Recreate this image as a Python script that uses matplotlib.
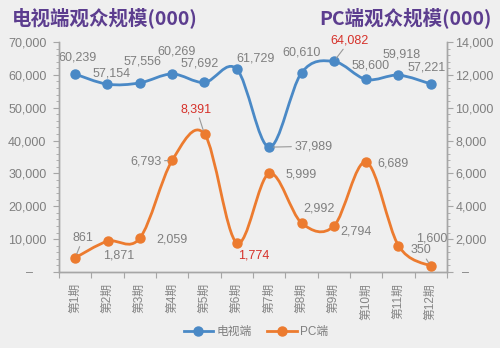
import matplotlib
matplotlib.use('Agg')
import matplotlib.pyplot as plt
from matplotlib.path import Path
from matplotlib.patches import PathPatch
from matplotlib.lines import Line2D
from matplotlib.ticker import FuncFormatter, MultipleLocator, FixedLocator

plt.rcParams['font.family'] = ['Liberation Sans', 'Noto Sans CJK SC', 'DejaVu Sans']

# ---------------- data ----------------
periods = ['第1期', '第2期', '第3期', '第4期', '第5期', '第6期',
           '第7期', '第8期', '第9期', '第10期', '第11期', '第12期']
tv_values = [60239, 57154, 57556, 60269, 57692, 61729,
             37989, 60610, 64082, 58600, 59918, 57221]
pc_values = [861, 1871, 2059, 6793, 8391, 1774,
             5999, 2992, 2794, 6689, 1600, 350]
series_names = ['电视端', 'PC端']
title_left = '电视端观众规模(000)'
title_right = 'PC端观众规模(000)'

# ---------------- styles ----------------
BG = '#efefef'
BLUE = '#4a89c6'
ORANGE = '#ec7b2f'
GRAY = '#7f7f7f'
RED = '#d6312a'
PURPLE = '#5c3d8f'
SPINE = '#a6a6a6'

# label offsets in pixels (dx, dy) and flags
tv_off = [(2, 17), (4, 11), (3, 21), (4, 22), (-5, 19), (19, 11),
          (44, 1), (0, 20), (16, 21), (4, 14), (3, 21), (-4, 16)]
tv_red = [False]*8 + [True] + [False]*3
tv_lead = [False]*6 + [True, False, True] + [False]*3
pc_off = [(8, 20), (11, -14), (32, -1), (-26, -1), (-8, 25), (17, -13),
          (32, -1), (18, 14), (22, -5), (27, -1), (33, 7), (-10, 16)]
pc_red = [False]*4 + [True, True] + [False]*6
pc_lead = [True, False, False, True, True] + [False]*6 + [True]


def smooth_path(xs, ys):
    n = len(xs)
    verts = [(xs[0], ys[0])]
    codes = [Path.MOVETO]
    for i in range(n - 1):
        i0 = max(i - 1, 0)
        i3 = min(i + 2, n - 1)
        c1 = (xs[i] + (xs[i + 1] - xs[i0]) / 6, ys[i] + (ys[i + 1] - ys[i0]) / 6)
        c2 = (xs[i + 1] - (xs[i3] - xs[i]) / 6, ys[i + 1] - (ys[i3] - ys[i]) / 6)
        verts += [c1, c2, (xs[i + 1], ys[i + 1])]
        codes += [Path.CURVE4] * 3
    return Path(verts, codes)


fig = plt.figure(figsize=(5.0, 3.48), dpi=100, facecolor=BG)
ax = fig.add_axes([59 / 500, 76 / 348, (447 - 59) / 500, 230 / 348])
ax.set_facecolor(BG)
ax2 = ax.twinx()

x = list(range(len(periods)))

ax.set_xlim(-0.5, len(periods) - 0.5)
ax.set_ylim(0, 70000)
ax2.set_ylim(0, 14000)

# lines
ax.add_patch(PathPatch(smooth_path(x, tv_values), fill=False, edgecolor=BLUE,
                       lw=2.0, capstyle='round', joinstyle='round', zorder=2))
ax.plot(x, tv_values, 'o', color=BLUE, markersize=6.5, zorder=3)
ax2.add_patch(PathPatch(smooth_path(x, pc_values), fill=False, edgecolor=ORANGE,
                        lw=2.0, capstyle='round', joinstyle='round', zorder=2))
ax2.plot(x, pc_values, 'o', color=ORANGE, markersize=6.5, zorder=3)

# data labels
def add_labels(a, vals, offs, reds, leads):
    for xi, v, (dx, dy), r, l in zip(x, vals, offs, reds, leads):
        kw = {}
        if l:
            kw['arrowprops'] = dict(arrowstyle='-', color='#999999', lw=0.8,
                                    shrinkA=0, shrinkB=3)
        a.annotate(f'{v:,}', xy=(xi, v), xytext=(dx, dy), textcoords='offset pixels',
                   ha='center', va='center', fontsize=9,
                   color=RED if r else GRAY, zorder=5, **kw)

add_labels(ax, tv_values, tv_off, tv_red, tv_lead)
add_labels(ax2, pc_values, pc_off, pc_red, pc_lead)

# spines
for a in (ax, ax2):
    a.spines['top'].set_visible(False)
    for s in ('left', 'right', 'bottom'):
        a.spines[s].set_color(SPINE)
        a.spines[s].set_linewidth(1.0)

# y axes
ax.yaxis.set_major_locator(MultipleLocator(10000))
ax.yaxis.set_minor_locator(MultipleLocator(2000))
ax.yaxis.set_major_formatter(FuncFormatter(lambda v, p: '–    ' if v == 0 else f'{int(v):,}'))
ax2.yaxis.set_major_locator(MultipleLocator(2000))
ax2.yaxis.set_minor_locator(MultipleLocator(400))
ax2.yaxis.set_major_formatter(FuncFormatter(lambda v, p: '  –' if v == 0 else f'{int(v):,}'))
ax.tick_params(axis='y', which='major', length=4, color=SPINE, labelsize=9,
               labelcolor=GRAY, pad=5)
ax.tick_params(axis='y', which='minor', length=2.5, color=SPINE)
ax2.tick_params(axis='y', which='major', length=4, color=SPINE, labelsize=9,
                labelcolor=GRAY, pad=2)
ax2.tick_params(axis='y', which='minor', length=2.5, color=SPINE)

# x axis: ticks at boundaries, labels at centres
ax.xaxis.set_major_locator(FixedLocator([i - 0.5 for i in range(len(periods) + 1)]))
ax.xaxis.set_major_formatter(FuncFormatter(lambda v, p: ''))
ax.set_xticks(x, minor=True)
ax.set_xticklabels(periods, minor=True, rotation=90, fontsize=8.5, color='#858585',
                   va='top', ha='center')
ax.tick_params(axis='x', which='major', length=4, color=SPINE)
ax.tick_params(axis='x', which='minor', length=0, pad=8)

# titles
fig.text(12 / 500, 1 - 18 / 348, title_left, ha='left', va='center', fontsize=14,
         fontweight='bold', color=PURPLE, family=['Noto Sans CJK SC'])
fig.text(492 / 500, 1 - 18 / 348, title_right, ha='right', va='center', fontsize=14,
         fontweight='bold', color=PURPLE, family=['Noto Sans CJK SC'])

# legend
handles = [Line2D([], [], color=BLUE, lw=2.0, marker='o', markersize=6.5),
           Line2D([], [], color=ORANGE, lw=2.0, marker='o', markersize=6.5)]
leg = fig.legend(handles, series_names, loc='center', bbox_to_anchor=(256 / 500, 1 - 332 / 348),
                 ncol=2, frameon=False, fontsize=8.5, handlelength=2.5, columnspacing=1.3,
                 handletextpad=0.3, labelcolor=GRAY)

fig.savefig('out.png', dpi=100, facecolor=BG)
